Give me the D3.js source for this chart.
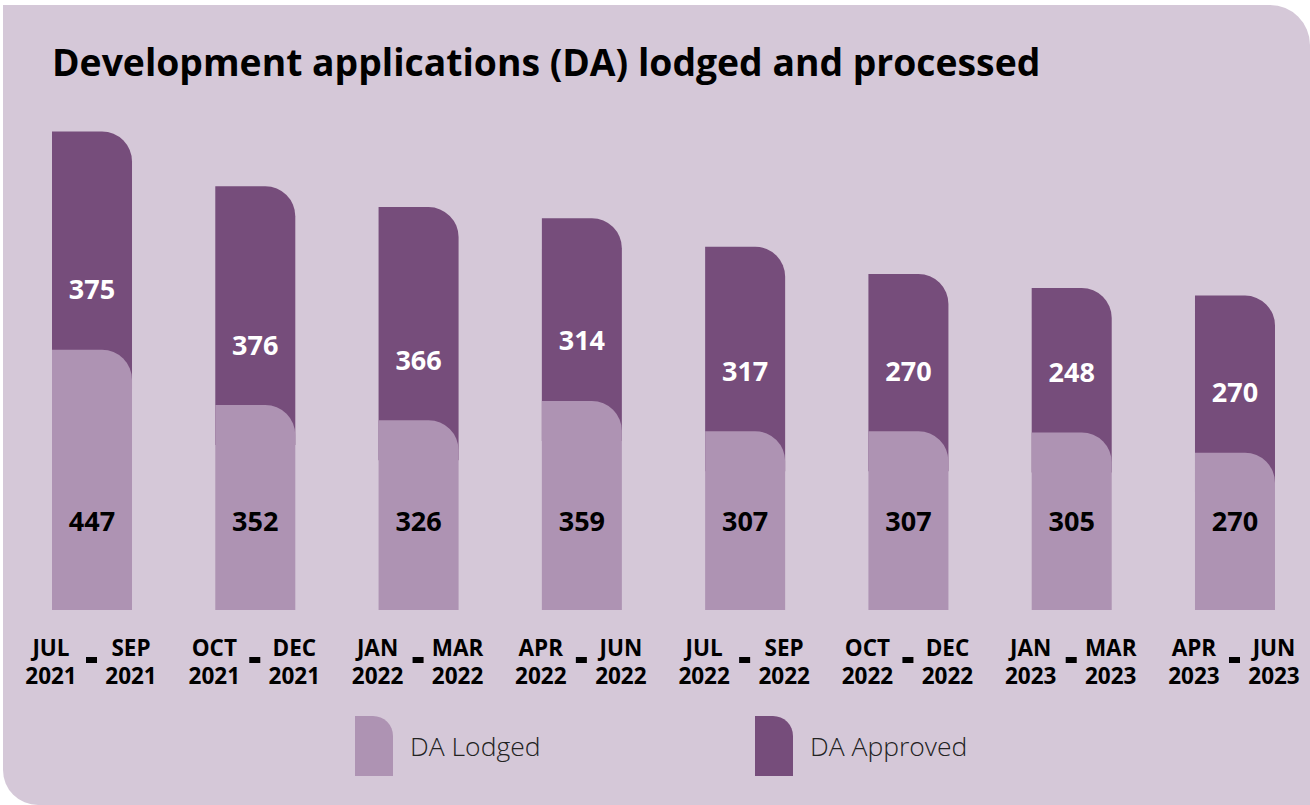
<!DOCTYPE html>
<html>
<head>
<meta charset="utf-8">
<script src="https://cdnjs.cloudflare.com/ajax/libs/d3/7.8.5/d3.min.js"></script>
<style>
  body { margin: 0; background: #fff; }
  svg { display: block; font-family: "Open Sans", sans-serif; }
</style>
</head>
<body>
<div id="chart"></div>
<script>
// data
var periodStart = ["JUL", "OCT", "JAN", "APR", "JUL", "OCT", "JAN", "APR"];
var startYear   = ["2021", "2021", "2022", "2022", "2022", "2022", "2023", "2023"];
var periodEnd   = ["SEP", "DEC", "MAR", "JUN", "SEP", "DEC", "MAR", "JUN"];
var endYear     = ["2021", "2021", "2022", "2022", "2022", "2022", "2023", "2023"];
var lodged   = [447, 352, 326, 359, 307, 307, 305, 270];
var approved = [375, 376, 366, 314, 317, 270, 248, 270];

var width = 1310, height = 805;
var bg = "#d5c8d8", lodgedColor = "#ae93b3", approvedColor = "#764d7b";
var r = 30;

var svg = d3.select("#chart").append("svg")
    .attr("width", width)
    .attr("height", height);

// rounded top-right corner path
function tab(x, y, w, h, rad) {
    return "M" + x + "," + (y + h) +
        "V" + y +
        "H" + (x + w - rad) +
        "A" + rad + "," + rad + " 0 0 1 " + (x + w) + "," + (y + rad) +
        "V" + (y + h) + "Z";
}

// panel background
svg.append("path")
    .attr("fill", bg)
    .attr("d", "M3,5H1270A40,40 0 0 1 1310,45V805H38A35,35 0 0 1 3,770Z");

svg.append("text")
    .attr("x", 52)
    .attr("y", 76)
    .attr("font-size", 37.3)
    .attr("font-weight", 700)
    .attr("fill", "#000")
    .text("Development applications (DA) lodged and processed");

var idx = d3.range(lodged.length);

var x = d3.scaleBand()
    .domain(idx)
    .range([52, 1275])
    .paddingInner(0.51)
    .paddingOuter(0);

var y = d3.scaleLinear()
    .domain([0, 900])
    .range([610, 86]);

var bw = x.bandwidth();

// approved (stacked on lodged, tucked behind the lodged corner)
svg.selectAll(".approved")
    .data(idx)
    .enter().append("path")
    .attr("class", "approved")
    .attr("fill", approvedColor)
    .attr("d", function (i) {
        var top = y(lodged[i] + approved[i]);
        var bottom = y(lodged[i]) + r + 10;
        return tab(x(i), top, bw, bottom - top, r);
    });

svg.selectAll(".lodged")
    .data(idx)
    .enter().append("path")
    .attr("class", "lodged")
    .attr("fill", lodgedColor)
    .attr("d", function (i) {
        var top = y(lodged[i]);
        return tab(x(i), top, bw, y(0) - top, r);
    });

// value labels
svg.selectAll(".approvedLabel")
    .data(idx)
    .enter().append("text")
    .attr("class", "approvedLabel")
    .attr("x", function (i) { return x(i) + bw / 2; })
    .attr("y", function (i) { return y(lodged[i]) - 60; })
    .attr("dy", "0.35em")
    .attr("text-anchor", "middle")
    .attr("font-size", 27)
    .attr("font-weight", 700)
    .attr("fill", "#fff")
    .text(function (i) { return approved[i]; });

svg.selectAll(".lodgedLabel")
    .data(idx)
    .enter().append("text")
    .attr("class", "lodgedLabel")
    .attr("x", function (i) { return x(i) + bw / 2; })
    .attr("y", 522)
    .attr("dy", "0.35em")
    .attr("text-anchor", "middle")
    .attr("font-size", 27)
    .attr("font-weight", 700)
    .attr("fill", "#000")
    .text(function (i) { return lodged[i]; });

// period labels
var labels = svg.append("g")
    .attr("font-size", 22.5)
    .attr("font-weight", 700)
    .attr("fill", "#000")
    .attr("text-anchor", "middle");

labels.selectAll(".from")
    .data(idx)
    .enter().append("text")
    .attr("x", function (i) { return x(i) - 1; })
    .attr("y", 656)
    .each(function (i) {
        d3.select(this).append("tspan").text(periodStart[i]);
        d3.select(this).append("tspan")
            .attr("x", x(i) - 1).attr("dy", 28).text(startYear[i]);
    });

labels.selectAll(".to")
    .data(idx)
    .enter().append("text")
    .attr("x", function (i) { return x(i) + bw - 1; })
    .attr("y", 656)
    .each(function (i) {
        d3.select(this).append("tspan").text(periodEnd[i]);
        d3.select(this).append("tspan")
            .attr("x", x(i) + bw - 1).attr("dy", 28).text(endYear[i]);
    });

svg.selectAll(".dash")
    .data(idx)
    .enter().append("rect")
    .attr("x", function (i) { return x(i) + bw / 2 - 6; })
    .attr("y", 657)
    .attr("width", 11)
    .attr("height", 6)
    .attr("fill", "#000");

// legend
var legendItems = [
    { name: "DA Lodged", color: lodgedColor, x: 355 },
    { name: "DA Approved", color: approvedColor, x: 755 }
];

var lg = svg.selectAll(".legend")
    .data(legendItems)
    .enter().append("g")
    .attr("class", "legend")
    .attr("transform", function (d) { return "translate(" + d.x + ",716)"; });

lg.append("path")
    .attr("fill", function (d) { return d.color; })
    .attr("d", tab(0, 0, 38, 60, 20));

lg.append("text")
    .attr("x", 55)
    .attr("y", 31)
    .attr("dy", "0.35em")
    .attr("font-size", 26.5)
    .attr("font-weight", 300)
    .attr("fill", "#222")
    .text(function (d) { return d.name; });
</script>
</body>
</html>
